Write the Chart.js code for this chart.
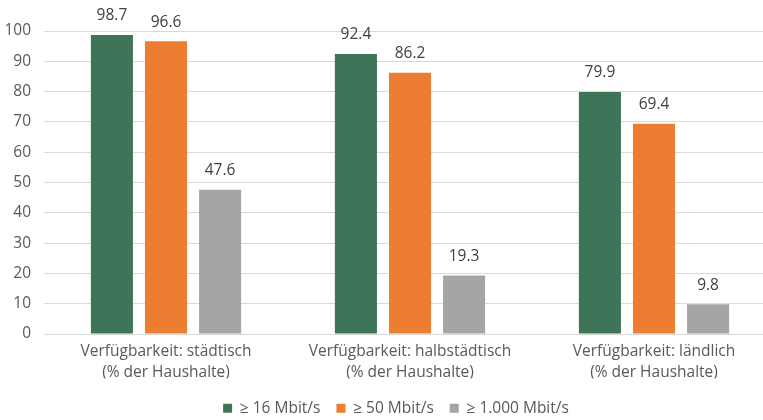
<!DOCTYPE html>
<html>
<head>
<meta charset="utf-8">
<script src="https://cdn.jsdelivr.net/npm/chart.js@4.4.1/dist/chart.umd.min.js"></script>
<style>
html,body{margin:0;padding:0;background:#fff;overflow:hidden;}
#wrap{position:relative;width:776px;height:420px;}
</style>
</head>
<body>
<div id="wrap"><canvas id="c"></canvas></div>
<script>
const categories = [
  ["Verfügbarkeit: städtisch", "(% der Haushalte)"],
  ["Verfügbarkeit: halbstädtisch", "(% der Haushalte)"],
  ["Verfügbarkeit: ländlich", "(% der Haushalte)"]
];
const seriesNames = ["≥ 16 Mbit/s", "≥ 50 Mbit/s", "≥ 1.000 Mbit/s"];
const mbit16 = [98.7, 92.4, 79.9];
const mbit50 = [96.6, 86.2, 69.4];
const mbit1000 = [47.6, 19.3, 9.8];
const seriesColors = ["#3E7558", "#ED7D31", "#A5A5A5"];

const FONT = "'Open Sans', 'Noto Sans', sans-serif";
const FS = 15.5;

const valueLabels = {
  id: 'valueLabels',
  afterDatasetsDraw(chart) {
    const ctx = chart.ctx;
    ctx.save();
    ctx.font = FS + "px " + FONT;
    ctx.fillStyle = "#404040";
    ctx.textAlign = "center";
    ctx.textBaseline = "middle";
    chart.data.datasets.forEach((ds, i) => {
      const meta = chart.getDatasetMeta(i);
      meta.data.forEach((bar, j) => {
        ctx.fillText(ds.data[j].toFixed(1), bar.x, bar.y - 19);
      });
    });
    ctx.restore();
  }
};

const legendShift = {
  id: 'legendShift',
  afterLayout(chart) {
    const lg = chart.legend;
    if (!lg) return;
    lg.left += 8; lg.right += 8;
    const dy = 420 - lg.bottom + 6;
    lg.top += dy; lg.bottom += dy;
  }
};

new Chart(document.getElementById('c'), {
  type: 'bar',
  data: {
    labels: categories,
    datasets: [
      { label: seriesNames[0], data: mbit16, backgroundColor: seriesColors[0] },
      { label: seriesNames[1], data: mbit50, backgroundColor: seriesColors[1] },
      { label: seriesNames[2], data: mbit1000, backgroundColor: seriesColors[2] }
    ]
  },
  options: {
    responsive: true,
    maintainAspectRatio: false,
    animation: false,
    datasets: { bar: { categoryPercentage: 0.665, barPercentage: 0.778 } },
    layout: { padding: { top: 31, left: 0, right: 0, bottom: 0 } },
    scales: {
      x: {
        afterFit(scale) { scale.height = 420 - 334 - scale.chart.legend.height; },
        grid: { display: false },
        border: { display: false },
        ticks: { color: "#595959", font: { family: FONT, size: FS, lineHeight: 1.3 }, padding: 0 }
      },
      y: {
        min: 0, max: 100,
        afterFit(scale) { scale.width = 44; },
        grid: { color: "#D9D9D9", lineWidth: 1, drawTicks: false },
        border: { display: false },
        ticks: { stepSize: 10, color: "#595959", font: { family: FONT, size: FS }, padding: 13 }
      }
    },
    plugins: {
      legend: {
        position: 'bottom',
        labels: {
          color: "#595959",
          font: { family: FONT, size: FS },
          boxWidth: 9, boxHeight: 9,
          padding: 16
        }
      },
      tooltip: { enabled: false }
    }
  },
  plugins: [valueLabels, legendShift]
});
</script>
</body>
</html>
